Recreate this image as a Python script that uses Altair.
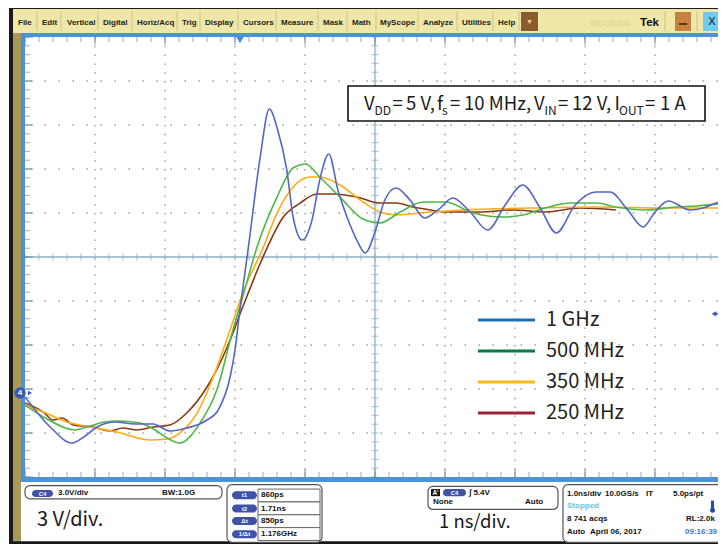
import altair as alt
import pandas as pd
import numpy as np

# ---------------- waveform readings: time (ns, 0 = screen centre), voltage (V) ----------------
series_names = ["1 GHz", "500 MHz", "350 MHz", "250 MHz"]

t_1ghz = [-5.0, -4.64, -4.33, -4.14, -3.97, -3.71, -3.43, -3.17, -2.93, -2.69, -2.40, -2.24, -2.07,
          -2.00, -1.93, -1.81, -1.64, -1.51, -1.39, -1.26, -1.17, -1.04, -0.90, -0.79, -0.66, -0.53,
          -0.40, -0.26, -0.14, 0.0, 0.14, 0.30, 0.50, 0.71, 0.90, 1.11, 1.36, 1.61, 1.86, 2.11, 2.36,
          2.59, 2.86, 3.16, 3.36, 3.61, 3.83, 4.00, 4.19, 4.50, 4.69, 4.87, 5.0]
v_1ghz = [-0.27, -2.32, -3.41, -2.93, -2.32, -1.98, -2.11, -2.11, -2.59, -2.39, -1.84, -1.16, 1.09,
          2.93, 5.66, 9.89, 16.09, 19.36, 17.93, 15.20, 12.0, 10.43, 11.80, 14.52, 16.30, 13.84,
          12.0, 10.43, 9.55, 10.98, 13.16, 13.98, 13.16, 11.93, 12.48, 13.30, 12.34, 11.11, 12.82,
          14.18, 12.61, 10.91, 12.82, 13.70, 13.70, 12.48, 11.32, 12.34, 13.09, 12.48, 12.61, 12.95, 13.09]

t_500 = [-5.0, -4.71, -4.29, -4.07, -3.86, -3.67, -3.36, -3.14, -2.97, -2.79, -2.5, -2.26, -2.03,
         -1.89, -1.69, -1.40, -1.17, -0.99, -0.79, -0.5, -0.17, 0.07, 0.36, 0.69, 1.01, 1.40, 1.83,
         2.11, 2.43, 2.79, 3.16, 3.44, 3.87, 4.30, 4.59, 5.0]
v_500 = [-0.82, -1.70, -2.52, -2.25, -1.98, -1.91, -2.05, -2.52, -3.07, -3.41, -2.05, 0.20, 4.30,
         6.55, 9.89, 13.36, 15.34, 15.61, 14.73, 13.36, 11.86, 11.59, 12.34, 13.02, 13.02, 12.27,
         12.0, 12.14, 12.61, 12.95, 12.95, 12.68, 12.48, 12.68, 12.75, 12.95]

t_350 = [-5.0, -4.74, -4.40, -4.07, -3.69, -3.21, -2.97, -2.79, -2.54, -2.31, -2.07, -1.89, -1.60,
         -1.40, -1.17, -0.93, -0.79, -0.50, -0.17, 0.07, 0.30, 0.79, 1.26, 2.21, 3.16, 4.11, 5.0]
v_350 = [-0.82, -1.30, -1.98, -2.32, -2.66, -3.20, -3.14, -2.73, -1.36, 1.09, 4.30, 6.82, 9.89,
         12.27, 14.05, 14.73, 14.73, 14.18, 13.02, 12.34, 12.14, 12.34, 12.48, 12.61, 12.68, 12.61, 12.61]

t_250 = [-5.0, -4.74, -4.60, -4.47, -4.31, -4.03, -3.79, -3.60, -3.40, -3.17, -2.93, -2.69, -2.40,
         -2.11, -1.89, -1.60, -1.31, -1.07, -0.83, -0.60, -0.26, 0.07, 0.30, 0.54, 0.79, 1.01, 1.50,
         1.97, 2.44, 2.93, 3.44]
v_250 = [-0.68, -1.30, -1.84, -1.70, -2.18, -2.32, -2.59, -2.39, -2.52, -2.32, -2.18, -1.36, 0.41,
         3.14, 5.86, 9.27, 12.0, 12.95, 13.57, 13.57, 13.36, 12.95, 12.95, 12.68, 12.48, 12.34, 12.34,
         12.48, 12.34, 12.61, 12.48]

wave_colors = ["#5466C6", "#4DB848", "#FFAA10", "#8A3712"]
legend_colors = ["#1F6FB4", "#0B7A46", "#FDB81C", "#9C2430"]

annotation = [("V", "main"), ("DD", "sub"), ("=", "main"), ("5 V,", "main"), ("f", "main"),
              ("s", "sub"), ("=", "main"), ("10 MHz,", "main"), ("V", "main"), ("IN", "sub"),
              ("=", "main"), ("12 V,", "main"), ("I", "main"), ("OUT", "sub"), ("=", "main"),
              ("1 A", "main")]

menu_items = ["File", "Edit", "Vertical", "Digital", "Horiz/Acq", "Trig", "Display", "Cursors",
              "Measure", "Mask", "Math", "MyScope", "Analyze", "Utilities", "Help"]

cursor_labels = ["t1", "t2", "\u0394t", "1/\u0394t"]
cursor_values = ["860ps", "1.71ns", "850ps", "1.176GHz"]

V_PER_DIV = 3.0
NS_PER_DIV = 1.0
TRIG_LEVEL = 5.4
T_MIN = -5.0
V_MIN = -1.909 * V_PER_DIV          # ground marker sits 1.91 div above the bottom
V_MAX = V_MIN + 10 * V_PER_DIV

# ---------------- layout ----------------
PX_PER_DIV = 70
W, H = 693, 440            # page allows 710 px; the last 7 px of the screen are cut
T_MAX = T_MIN + W / PX_PER_DIV * NS_PER_DIV
OX, OY = 25, 37            # screenshot pixel position of the graticule origin
FONT_C = "Noto Sans CJK JP, Liberation Sans Narrow, sans-serif"
FONT_UI = "Liberation Sans, Arial, sans-serif"

xs = alt.Scale(domain=[T_MIN, T_MAX], nice=False, zero=False)
ys = alt.Scale(domain=[V_MIN, V_MAX], nice=False, zero=False)


def px(v):
    return v - OX


def py(v):
    # the status panel below the graticule is squeezed a little to fit the page
    if v > 482:
        v = 482 + (v - 482) * 62.0 / 70.0
    return v - OY


def rects(rows, **mk):
    df = pd.DataFrame(rows, columns=["x1", "y1", "x2", "y2", "fill"])
    df["x1"] = df["x1"].map(px); df["x2"] = df["x2"].map(px)
    df["y1"] = df["y1"].map(py); df["y2"] = df["y2"].map(py)
    return alt.Chart(df).mark_rect(**mk).encode(
        x=alt.X("x1:Q", scale=None, axis=None), x2="x2:Q",
        y=alt.Y("y1:Q", scale=None, axis=None), y2="y2:Q",
        fill=alt.Fill("fill:N", scale=None))


def texts(rows, font=FONT_UI, weight="normal", align="left", baseline="middle"):
    df = pd.DataFrame(rows, columns=["text", "x", "y", "size", "color"])
    df["x"] = df["x"].map(px); df["y"] = df["y"].map(py)
    return alt.Chart(df).mark_text(font=font, fontWeight=weight, align=align, baseline=baseline).encode(
        x=alt.X("x:Q", scale=None, axis=None), y=alt.Y("y:Q", scale=None, axis=None),
        text="text:N", size=alt.Size("size:Q", scale=None), color=alt.Color("color:N", scale=None))


layers = []

# ---------------- graticule ----------------
div_t = [T_MIN + k * NS_PER_DIV for k in range(1, 10) if k != 5]
div_v = [V_MIN + k * V_PER_DIV for k in range(1, 10) if k != 5]
T_CENTRE = T_MIN + 5 * NS_PER_DIV
V_CENTRE = V_MIN + 5 * V_PER_DIV

grid_col = "#A3A27E"
layers.append(alt.Chart(pd.DataFrame({"t": div_t})).mark_rule(
    color=grid_col, strokeWidth=1.5, strokeDash=[1.5, 7.3]).encode(x=alt.X("t:Q", scale=xs, axis=None)))
layers.append(alt.Chart(pd.DataFrame({"v": div_v})).mark_rule(
    color=grid_col, strokeWidth=1.5, strokeDash=[1.5, 12.5]).encode(y=alt.Y("v:Q", scale=ys, axis=None)))

cross_col = "#8FB0C6"
layers.append(alt.Chart(pd.DataFrame({"t": [T_CENTRE]})).mark_rule(color=cross_col, strokeWidth=1.3).encode(
    x=alt.X("t:Q", scale=xs, axis=None)))
layers.append(alt.Chart(pd.DataFrame({"v": [V_CENTRE]})).mark_rule(color=cross_col, strokeWidth=1.3).encode(
    y=alt.Y("v:Q", scale=ys, axis=None)))

minor_t = [T_MIN + i * NS_PER_DIV / 5 for i in range(50)]
minor_v = [V_MIN + j * V_PER_DIV / 5 for j in range(51)]
major_t = [T_MIN + i * NS_PER_DIV for i in range(10)]
major_v = [V_MIN + j * V_PER_DIV for j in range(11)]

layers.append(alt.Chart(pd.DataFrame({"t": minor_t, "v": V_CENTRE})).mark_tick(
    orient="vertical", color=cross_col, thickness=1.2, size=7).encode(
    x=alt.X("t:Q", scale=xs, axis=None), y=alt.Y("v:Q", scale=ys, axis=None)))
layers.append(alt.Chart(pd.DataFrame({"t": T_CENTRE, "v": minor_v})).mark_tick(
    orient="horizontal", color=cross_col, thickness=1.2, size=7).encode(
    x=alt.X("t:Q", scale=xs, axis=None), y=alt.Y("v:Q", scale=ys, axis=None)))

edge_col = "#7E9FB6"
for yv in [2.5, H - 2.5]:
    layers.append(alt.Chart(pd.DataFrame({"t": minor_t})).mark_tick(
        orient="vertical", color=edge_col, thickness=1.2, size=5).encode(
        x=alt.X("t:Q", scale=xs, axis=None), y=alt.value(yv)))
for yv in [4, H - 4]:
    layers.append(alt.Chart(pd.DataFrame({"t": major_t})).mark_tick(
        orient="vertical", color="#6E8C84", thickness=1.2, size=8).encode(
        x=alt.X("t:Q", scale=xs, axis=None), y=alt.value(yv)))
layers.append(alt.Chart(pd.DataFrame({"v": minor_v})).mark_tick(
    orient="horizontal", color=edge_col, thickness=1.2, size=5).encode(
    y=alt.Y("v:Q", scale=ys, axis=None), x=alt.value(2.5)))
layers.append(alt.Chart(pd.DataFrame({"v": major_v})).mark_tick(
    orient="horizontal", color="#6E8C84", thickness=1.2, size=8).encode(
    y=alt.Y("v:Q", scale=ys, axis=None), x=alt.value(4)))

# ---------------- waveforms ----------------
wave = pd.concat([
    pd.DataFrame({"series": "250 MHz", "t": t_250, "v": v_250, "k": 0}),
    pd.DataFrame({"series": "350 MHz", "t": t_350, "v": v_350, "k": 1}),
    pd.DataFrame({"series": "500 MHz", "t": t_500, "v": v_500, "k": 2}),
    pd.DataFrame({"series": "1 GHz", "t": t_1ghz, "v": v_1ghz, "k": 3}),
], ignore_index=True)
layers.append(alt.Chart(wave).mark_line(strokeWidth=1.6, interpolate="monotone", clip=True).encode(
    x=alt.X("t:Q", scale=xs, axis=None),
    y=alt.Y("v:Q", scale=ys, axis=None),
    color=alt.Color("series:N", scale=alt.Scale(domain=series_names, range=wave_colors), legend=None),
    detail="k:N"))

# ---------------- annotation box ----------------
layers.append(rects([(348, 86, 705, 121, "white")], stroke="#111", strokeWidth=1.6))
ann_x = [364, 374.5, 392.5, 406, 437, 442, 450, 464, 534, 544.5, 558, 572, 614.5, 619, 645, 660]
ann_rows = []
for (txt, kind), xx in zip(annotation, ann_x):
    if kind == "main":
        ann_rows.append((txt, xx, 110, 18.5, "#1a1a1a"))
    else:
        ann_rows.append((txt, xx, 115, 12, "#1a1a1a"))
layers.append(texts(ann_rows, font=FONT_C, baseline="alphabetic"))

# ---------------- legend ----------------
leg = pd.DataFrame({"label": series_names, "col": legend_colors, "idx": range(4)})
leg["ly"] = py(320) + 31 * leg["idx"]
layers.append(alt.Chart(leg).mark_rule(strokeWidth=3).encode(
    x=alt.value(px(478)), x2=alt.value(px(535)),
    y=alt.Y("ly:Q", scale=None, axis=None), color=alt.Color("col:N", scale=None)))
layers.append(alt.Chart(leg).mark_text(font=FONT_C, fontSize=20, align="left", baseline="middle",
                                       color="#231F20").encode(
    x=alt.value(px(546)), y=alt.Y("ly:Q", scale=None, axis=None), text="label:N"))

# ---------------- scope markers ----------------
layers.append(alt.Chart(pd.DataFrame({"v": [TRIG_LEVEL]})).mark_point(
    shape="triangle-left", filled=True, size=28, color="#3B57B0", opacity=1).encode(
    x=alt.value(px(714)), y=alt.Y("v:Q", scale=ys, axis=None)))
layers.append(alt.Chart(pd.DataFrame({"v": [TRIG_LEVEL]})).mark_rule(color="#3B57B0", strokeWidth=1.5).encode(
    x=alt.value(px(714)), x2=alt.value(px(726)), y=alt.Y("v:Q", scale=ys, axis=None)))
layers.append(alt.Chart(pd.DataFrame({"v": [0.0]})).mark_point(
    shape="triangle-right", filled=True, size=22, color="#3B57B0", opacity=1).encode(
    x=alt.value(px(30)), y=alt.Y("v:Q", scale=ys, axis=None)))

# ---------------- screenshot frame ----------------
layers.append(rects([
    (13, 9, 726, 33, "#EEE7A8"),
    (9, 7, 726, 9, "#1A1A1A"),
    (9, 7, 13, 552, "#1A1A1A"),
    (13, 33, 21, 552, "#A99A5C"),
    (21, 33, 726, 37, "#4B93D6"),
    (21, 33, 25, 482, "#4B93D6"),
    (21, 477, 726, 482, "#4B93D6"),
    (13, 549, 726, 552, "#1A1A1A"),
    (521, 12, 538, 31, "#8B5B2E"),
    (675, 12, 691, 31, "#C9813F"),
    (703, 12, 721, 31, "#6FCBF3"),
    (679, 23, 687, 25, "#5A3210"),
]))

# ground marker & trigger-position marker
layers.append(alt.Chart(pd.DataFrame({"v": [0.0]})).mark_point(
    shape="circle", filled=True, size=130, color="#3B57B0", opacity=1).encode(
    x=alt.value(px(20)), y=alt.Y("v:Q", scale=ys, axis=None)))
layers.append(alt.Chart(pd.DataFrame({"v": [0.0]})).mark_text(
    text="4", color="white", fontSize=8, fontWeight="bold", font=FONT_UI).encode(
    x=alt.value(px(20)), y=alt.Y("v:Q", scale=ys, axis=None)))
layers.append(alt.Chart(pd.DataFrame({"k": [0]})).mark_point(
    shape="triangle-down", filled=True, size=60, color="#3E8FDC", opacity=1).encode(
    x=alt.value(px(240)), y=alt.value(py(40))))

# menu separators
menu_sep = [37, 61, 98, 132, 177, 200, 238, 276, 318, 347, 376, 418, 457, 493, 519, 665, 697]
sep = pd.DataFrame({"x": [px(s) for s in menu_sep]})
layers.append(alt.Chart(sep).mark_rule(color="#CDC386", strokeWidth=1).encode(
    x=alt.X("x:Q", scale=None, axis=None), y=alt.value(py(11)), y2=alt.value(py(31))))

menu_x = [18, 42, 67, 103, 137, 182, 205, 243, 281, 323, 352, 380, 423, 462, 498]
layers.append(texts([(m, xx, 23, 8, "#222222") for m, xx in zip(menu_items, menu_x)], weight="bold"))
layers.append(texts([("MSO5204", 590, 23, 9, "#DDD493")]))
layers.append(texts([("Tek", 640, 23, 11.5, "#111111")], weight="bold"))
layers.append(texts([("\u25BC", 529.5, 22, 7, "#F3DE78"), ("X", 712, 22, 11, "#111111")], align="center"))

# ---------------- bottom status panel ----------------
layers.append(rects([
    (25, 486, 222, 501, "white"),
    (227, 485, 322, 550, "white"),
    (428, 487, 558, 513, "white"),
    (563, 485, 725, 550, "white"),
], cornerRadius=5, stroke="#555555", strokeWidth=1.2))
cell_y = [490, 504.5, 519, 533.5, 548]
layers.append(rects([(258, cell_y[i], 320, cell_y[i + 1], "white") for i in range(4)],
                    stroke="#666666", strokeWidth=1))
pill_rows = [(32, 491, 53, 499, "#3F51A8"), (443, 490, 466, 498, "#3F51A8")]
pill_y = [497, 512, 526, 541]
pill_rows += [(232, yy - 4.5, 257, yy + 4.5, "#3F51A8") for yy in pill_y]
layers.append(rects(pill_rows, cornerRadius=4))
layers.append(rects([(431, 490, 440, 498, "#111111"), (711, 503, 714, 513, "#1E4FA8")]))
layers.append(alt.Chart(pd.DataFrame({"k": [0]})).mark_point(
    shape="circle", filled=True, size=25, color="#1E4FA8", opacity=1).encode(
    x=alt.value(px(712.5)), y=alt.value(py(514))))

pill_txt = [("C4", 42.5, 495, 6, "white"), ("C4", 454.5, 494, 6, "white"), ("A'", 435.5, 494, 6.5, "white")]
pill_txt += [(lab, 244.5, yy, 6, "white") for lab, yy in zip(cursor_labels, pill_y)]
layers.append(texts(pill_txt, align="center", weight="bold"))

status = [("3.0V/div", 58, 494, 8, "#111111"), ("BW:1.0G", 162, 494, 8, "#111111"),
          ("\u222B 5.4V", 469, 494, 8, "#111111"), ("None", 433, 505, 8, "#111111"),
          ("Auto", 525, 505, 8, "#111111"),
          ("1.0ns/div", 567, 495, 8, "#111111"), ("10.0GS/s", 605, 495, 8, "#111111"),
          ("IT", 646, 495, 8, "#111111"), ("5.0ps/pt", 673, 495, 8, "#111111"),
          ("Stopped", 567, 509, 8, "#5CC6E6"), ("8 741 acqs", 567, 524, 8, "#111111"),
          ("RL:2.0k", 686, 524, 8, "#111111"), ("Auto", 567, 539, 8, "#111111"),
          ("April 06, 2017", 590, 539, 8, "#111111"), ("09:16:39", 685, 539, 8, "#3C7DCC")]
status += [(val, 261, yy, 8, "#111111") for val, yy in zip(cursor_values, pill_y)]
layers.append(texts(status, weight="bold"))

layers.append(texts([("3 V/div.", 37, 525, 20, "#1a1a1a"), ("1 ns/div.", 439, 527, 18.5, "#1a1a1a")],
                    font=FONT_C))

chart = alt.layer(*layers).properties(
    width=W, height=H,
    autosize=alt.AutoSizeParams(type="none"),
    padding={"left": 17, "top": 29, "right": 0, "bottom": 67},
    background="white",
).configure_view(strokeWidth=0)

chart.save("out.html", embed_options={"renderer": "svg", "actions": False})
